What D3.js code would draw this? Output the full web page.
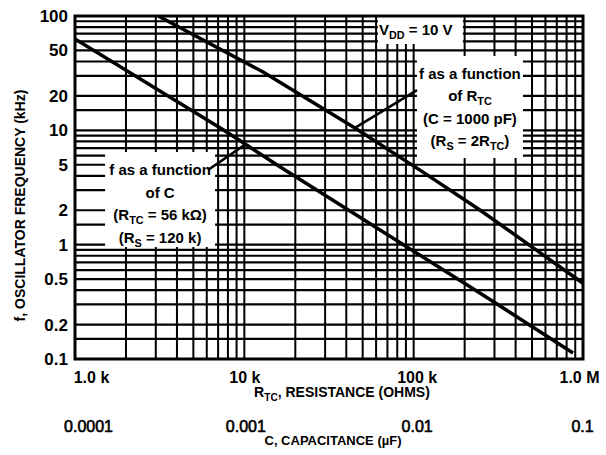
<!DOCTYPE html>
<html>
<head>
<meta charset="utf-8">
<script src="https://cdn.jsdelivr.net/npm/d3@7"></script>
<style>
  body { margin: 0; background: #fff; }
  svg text { font-family: "Liberation Sans", Arial, sans-serif; fill: #000; white-space: pre; }
</style>
</head>
<body>
<svg id="chart" width="606" height="455"></svg>
<script>
// tick values and labels
var resistanceTicks = [1e3, 1e4, 1e5, 1e6];
var resistanceLabels = ["1.0 k", "10 k", "100 k", "1.0 M"];
var capacitanceLabels = ["0.0001", "0.001", "0.01", "0.1"];
var freqTicks = [100, 50, 20, 10, 5, 2, 1, 0.5, 0.2, 0.1];
var gridStepsX = [1, 2, 3, 4, 5, 6, 7, 8, 9];
var gridStepsY = [1, 1.5, 2, 3, 4, 5, 6, 7, 8, 9];

// curves: resistance (ohms) vs frequency (kHz)
var rtcCurveR = [3.1e3, 12.9e3, 45e3, 113e3, 246e3, 1e6];
var rtcCurveF = [100, 32.4, 10.5, 4.33, 2.01, 0.46];
var capCurveR = [1e3, 7.5e3, 16.3e3, 246e3, 873e3];
var capCurveF = [63, 10.1, 4.78, 0.378, 0.113];

// leader lines from the notes to the curves
var rtcLeaderR = [104.7e3, 45e3];
var rtcLeaderF = [22.5, 10.5];
var capLeaderR = [6.1e3, 10.1e3];
var capLeaderF = [4.5, 7.5];

// note texts: [text, subscript?]
var vddNote = [["V", false], ["DD", true], [" = 10 V", false]];
var rtcNote = [
  [["f as a function", false]],
  [["of R", false], ["TC", true]],
  [["(C = 1000 pF)", false]],
  [["(R", false], ["S", true], [" = 2R", false], ["TC", true], [")", false]]
];
var capNote = [
  [["f as a function", false]],
  [["of C", false]],
  [["(R", false], ["TC", true], [" = 56 k\u03A9)", false]],
  [["(R", false], ["S", true], [" = 120 k)", false]]
];
// note anchors in data units (box centre-top / left-top)
var rtcNoteAt = [215e3, 44.7];
var capNoteAt = [3.18e3, 6.46];
var vddNoteAt = [61.5e3, 100];

var margin = { top: 16, right: 23, bottom: 96, left: 75 },
  width = 606 - margin.left - margin.right,
  height = 455 - margin.top - margin.bottom;

var svg = d3.select("#chart")
  .append("g")
  .attr("transform", "translate(" + margin.left + "," + margin.top + ")");

var x = d3.scaleLog().domain([1e3, 1e6]).range([0, width]);
var y = d3.scaleLog().domain([0.1, 100]).range([height, 0]);

// grid
var xGrid = [], yGrid = [];
[1e3, 1e4, 1e5].forEach(function (d) { gridStepsX.forEach(function (k) { xGrid.push(k * d); }); });
[0.1, 1, 10].forEach(function (d) { gridStepsY.forEach(function (k) { yGrid.push(k * d); }); });

svg.append("g").selectAll("line").data(xGrid).enter().append("line")
  .attr("x1", function (d) { return x(d); }).attr("x2", function (d) { return x(d); })
  .attr("y1", 0).attr("y2", height)
  .attr("stroke", "#000").attr("stroke-width", 2);

svg.append("g").selectAll("line").data(yGrid).enter().append("line")
  .attr("y1", function (d) { return y(d); }).attr("y2", function (d) { return y(d); })
  .attr("x1", 0).attr("x2", width)
  .attr("stroke", "#000").attr("stroke-width", 2.2);

// curves
svg.append("clipPath").attr("id", "clip").append("rect").attr("width", width).attr("height", height);

var line = d3.line()
  .x(function (d) { return x(d[0]); })
  .y(function (d) { return y(d[1]); });

[[rtcCurveR, rtcCurveF], [capCurveR, capCurveF]].forEach(function (c) {
  svg.append("path")
    .datum(d3.zip(c[0], c[1]))
    .attr("clip-path", "url(#clip)")
    .attr("fill", "none")
    .attr("stroke", "#000")
    .attr("stroke-width", 3.5)
    .attr("d", line);
});

function richText(g, tx, ty, parts, size, anchor) {
  var t = g.append("text").attr("x", tx).attr("y", ty)
    .attr("text-anchor", anchor)
    .style("font-size", size + "px").style("font-weight", "bold");
  var shift = 0;
  parts.forEach(function (p) {
    var want = p[1] ? 4 : 0;
    t.append("tspan").attr("dy", want - shift)
      .style("font-size", p[1] ? (size * 0.72) + "px" : null)
      .text(p[0]);
    shift = want;
  });
  return t;
}

// white note boxes
var notes = svg.append("g");
notes.append("rect")
  .attr("x", x(vddNoteAt[0])).attr("y", y(vddNoteAt[1]))
  .attr("width", 85).attr("height", 28).attr("fill", "#fff");
richText(notes, x(vddNoteAt[0]) + 1, y(vddNoteAt[1]) + 19, vddNote, 15, "start");

function noteBox(at, rows, w, h) {
  var cx = x(at[0]), top = y(at[1]);
  notes.append("rect").attr("x", cx - w / 2).attr("y", top)
    .attr("width", w).attr("height", h).attr("fill", "#fff");
  rows.forEach(function (r, i) {
    richText(notes, cx, top + 23 + i * 22.5, r, 15, "middle");
  });
}
noteBox(rtcNoteAt, rtcNote, 106, 102);
noteBox(capNoteAt, capNote, 110, 95);

// leader lines
[[rtcLeaderR, rtcLeaderF], [capLeaderR, capLeaderF]].forEach(function (c) {
  svg.append("path")
    .datum(d3.zip(c[0], c[1]))
    .attr("fill", "none").attr("stroke", "#000").attr("stroke-width", 2.5)
    .attr("d", line);
});

// frame
svg.append("rect").attr("width", width).attr("height", height)
  .attr("fill", "none").attr("stroke", "#000").attr("stroke-width", 3);

// Y axis
var yAxis = svg.append("g")
  .call(d3.axisLeft(y).tickValues(freqTicks).tickFormat(function (d) { return String(d); })
    .tickSize(0).tickPadding(7));
yAxis.select(".domain").remove();
yAxis.selectAll("text").style("font-size", "17px").style("font-weight", "bold")
  .style("font-family", '"Liberation Sans", Arial, sans-serif');

// X axis: resistance
var labelShift = [16, 0, 3, -4];
var xAxis = svg.append("g")
  .attr("transform", "translate(0," + height + ")")
  .call(d3.axisBottom(x).tickValues(resistanceTicks)
    .tickFormat(function (d, i) { return resistanceLabels[i]; })
    .tickSize(0).tickPadding(12.5));
xAxis.select(".domain").remove();
xAxis.selectAll("text").style("font-size", "16px").style("font-weight", "bold")
  .style("font-family", '"Liberation Sans", Arial, sans-serif')
  .attr("dx", function (d, i) { return labelShift[i]; });

// X axis: capacitance
var capShift = [13, 1, 3, -1];
var cAxis = svg.append("g")
  .attr("transform", "translate(0," + (height + 62) + ")")
  .call(d3.axisBottom(x).tickValues(resistanceTicks)
    .tickFormat(function (d, i) { return capacitanceLabels[i]; })
    .tickSize(0).tickPadding(0));
cAxis.select(".domain").remove();
cAxis.selectAll("text").style("font-size", "16px").style("font-weight", "normal")
  .style("font-family", '"Liberation Sans", Arial, sans-serif')
  .style("stroke", "#000").style("stroke-width", 0.6)
  .attr("dx", function (d, i) { return capShift[i]; });

// axis titles
richText(svg, width / 2 + 13, height + 38,
  [["R", false], ["TC", true], [", RESISTANCE (OHMS)", false]], 14, "middle");
richText(svg, width / 2 + 4, height + 86,
  [["C, CAPACITANCE (\u00B5F)", false]], 13, "middle");
svg.append("text")
  .attr("transform", "translate(" + (-50) + "," + (height / 2 + 18) + ") rotate(-90)")
  .attr("text-anchor", "middle")
  .style("font-size", "14px").style("font-weight", "bold")
  .text("f, OSCILLATOR FREQUENCY (kHz)");
</script>
</body>
</html>
